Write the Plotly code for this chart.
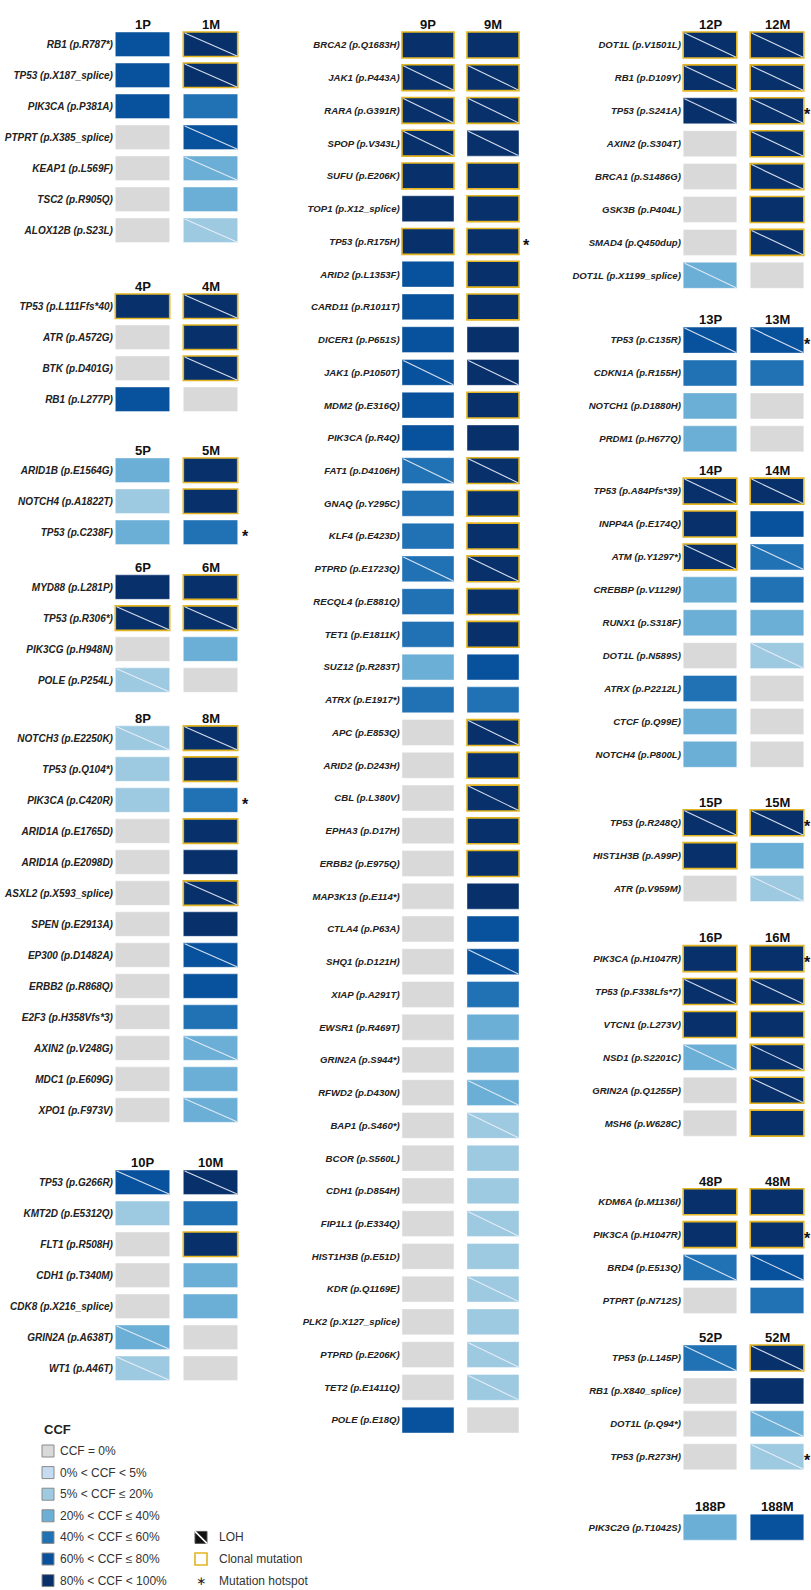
import plotly.graph_objects as go

# ---------------------------------------------------------------- data
CCF_LABELS = ["CCF = 0%", "0% < CCF < 5%", "5% < CCF ≤ 20%", "20% < CCF ≤ 40%",
              "40% < CCF ≤ 60%", "60% < CCF ≤ 80%", "80% < CCF < 100%"]
CCF_COLORS = ["#d9d9d9", "#c6dbef", "#9ecae1", "#6baed6", "#2171b5", "#08519c", "#08306b"]

# CCF values are class indices into CCF_LABELS; flags are 1 = present
MUT_1 = ["RB1 (p.R787*)", "TP53 (p.X187_splice)", "PIK3CA (p.P381A)", "PTPRT (p.X385_splice)",
         "KEAP1 (p.L569F)", "TSC2 (p.R905Q)", "ALOX12B (p.S23L)"]
CCF_P_1 = [5, 5, 5, 0, 0, 0, 0]
CCF_M_1 = [6, 6, 4, 5, 3, 3, 2]
LOH_P_1 = [0, 0, 0, 0, 0, 0, 0]
LOH_M_1 = [1, 1, 0, 1, 1, 0, 1]
CLONAL_P_1 = [0, 0, 0, 0, 0, 0, 0]
CLONAL_M_1 = [1, 1, 0, 0, 0, 0, 0]
HOTSPOT_1 = [0, 0, 0, 0, 0, 0, 0]

MUT_4 = ["TP53 (p.L111Ffs*40)", "ATR (p.A572G)", "BTK (p.D401G)", "RB1 (p.L277P)"]
CCF_P_4 = [6, 0, 0, 5]
CCF_M_4 = [6, 6, 6, 0]
LOH_P_4 = [0, 0, 0, 0]
LOH_M_4 = [1, 0, 1, 0]
CLONAL_P_4 = [1, 0, 0, 0]
CLONAL_M_4 = [1, 1, 1, 0]
HOTSPOT_4 = [0, 0, 0, 0]

MUT_5 = ["ARID1B (p.E1564G)", "NOTCH4 (p.A1822T)", "TP53 (p.C238F)"]
CCF_P_5 = [3, 2, 3]
CCF_M_5 = [6, 6, 4]
LOH_P_5 = [0, 0, 0]
LOH_M_5 = [0, 0, 0]
CLONAL_P_5 = [0, 0, 0]
CLONAL_M_5 = [1, 1, 0]
HOTSPOT_5 = [0, 0, 1]

MUT_6 = ["MYD88 (p.L281P)", "TP53 (p.R306*)", "PIK3CG (p.H948N)", "POLE (p.P254L)"]
CCF_P_6 = [6, 6, 0, 2]
CCF_M_6 = [6, 6, 3, 0]
LOH_P_6 = [0, 1, 0, 1]
LOH_M_6 = [0, 1, 0, 0]
CLONAL_P_6 = [0, 1, 0, 0]
CLONAL_M_6 = [1, 1, 0, 0]
HOTSPOT_6 = [0, 0, 0, 0]

MUT_8 = ["NOTCH3 (p.E2250K)", "TP53 (p.Q104*)", "PIK3CA (p.C420R)", "ARID1A (p.E1765D)",
         "ARID1A (p.E2098D)", "ASXL2 (p.X593_splice)", "SPEN (p.E2913A)", "EP300 (p.D1482A)",
         "ERBB2 (p.R868Q)", "E2F3 (p.H358Vfs*3)", "AXIN2 (p.V248G)", "MDC1 (p.E609G)",
         "XPO1 (p.F973V)"]
CCF_P_8 = [2, 2, 2, 0, 0, 0, 0, 0, 0, 0, 0, 0, 0]
CCF_M_8 = [6, 6, 4, 6, 6, 6, 6, 5, 5, 4, 3, 3, 3]
LOH_P_8 = [1, 0, 0, 0, 0, 0, 0, 0, 0, 0, 0, 0, 0]
LOH_M_8 = [1, 0, 0, 0, 0, 1, 0, 1, 0, 0, 1, 0, 1]
CLONAL_P_8 = [0, 0, 0, 0, 0, 0, 0, 0, 0, 0, 0, 0, 0]
CLONAL_M_8 = [1, 1, 0, 1, 0, 1, 0, 0, 0, 0, 0, 0, 0]
HOTSPOT_8 = [0, 0, 1, 0, 0, 0, 0, 0, 0, 0, 0, 0, 0]

MUT_10 = ["TP53 (p.G266R)", "KMT2D (p.E5312Q)", "FLT1 (p.R508H)", "CDH1 (p.T340M)",
          "CDK8 (p.X216_splice)", "GRIN2A (p.A638T)", "WT1 (p.A46T)"]
CCF_P_10 = [5, 2, 0, 0, 0, 3, 2]
CCF_M_10 = [6, 4, 6, 3, 3, 0, 0]
LOH_P_10 = [1, 0, 0, 0, 0, 1, 1]
LOH_M_10 = [1, 0, 0, 0, 0, 0, 0]
CLONAL_P_10 = [0, 0, 0, 0, 0, 0, 0]
CLONAL_M_10 = [0, 0, 1, 0, 0, 0, 0]
HOTSPOT_10 = [0, 0, 0, 0, 0, 0, 0]

MUT_9 = ["BRCA2 (p.Q1683H)", "JAK1 (p.P443A)", "RARA (p.G391R)", "SPOP (p.V343L)",
         "SUFU (p.E206K)", "TOP1 (p.X12_splice)", "TP53 (p.R175H)", "ARID2 (p.L1353F)",
         "CARD11 (p.R1011T)", "DICER1 (p.P651S)", "JAK1 (p.P1050T)", "MDM2 (p.E316Q)",
         "PIK3CA (p.R4Q)", "FAT1 (p.D4106H)", "GNAQ (p.Y295C)", "KLF4 (p.E423D)",
         "PTPRD (p.E1723Q)", "RECQL4 (p.E881Q)", "TET1 (p.E1811K)", "SUZ12 (p.R283T)",
         "ATRX (p.E1917*)", "APC (p.E853Q)", "ARID2 (p.D243H)", "CBL (p.L380V)",
         "EPHA3 (p.D17H)", "ERBB2 (p.E975Q)", "MAP3K13 (p.E114*)", "CTLA4 (p.P63A)",
         "SHQ1 (p.D121H)", "XIAP (p.A291T)", "EWSR1 (p.R469T)", "GRIN2A (p.S944*)",
         "RFWD2 (p.D430N)", "BAP1 (p.S460*)", "BCOR (p.S560L)", "CDH1 (p.D854H)",
         "FIP1L1 (p.E334Q)", "HIST1H3B (p.E51D)", "KDR (p.Q1169E)", "PLK2 (p.X127_splice)",
         "PTPRD (p.E206K)", "TET2 (p.E1411Q)", "POLE (p.E18Q)"]
CCF_P_9 = [6, 6, 6, 6, 6, 6, 6, 5, 5, 5, 5, 5, 5, 4, 4, 4, 4, 4, 4, 3, 4,
           0, 0, 0, 0, 0, 0, 0, 0, 0, 0, 0, 0, 0, 0, 0, 0, 0, 0, 0, 0, 0, 5]
CCF_M_9 = [6, 6, 6, 6, 6, 6, 6, 6, 6, 6, 6, 6, 6, 6, 6, 6, 6, 6, 6, 5, 4,
           6, 6, 6, 6, 6, 6, 5, 5, 4, 3, 3, 3, 2, 2, 2, 2, 2, 2, 2, 2, 2, 0]
LOH_P_9 = [0, 1, 1, 1, 0, 0, 0, 0, 0, 0, 1, 0, 0, 1, 0, 0, 1, 0, 0, 0, 0,
           0, 0, 0, 0, 0, 0, 0, 0, 0, 0, 0, 0, 0, 0, 0, 0, 0, 0, 0, 0, 0, 0]
LOH_M_9 = [0, 1, 1, 1, 0, 0, 0, 0, 0, 0, 1, 0, 0, 1, 0, 0, 1, 0, 0, 0, 0,
           1, 0, 1, 0, 0, 0, 0, 1, 0, 0, 0, 1, 1, 0, 0, 1, 0, 1, 0, 1, 1, 0]
CLONAL_P_9 = [1, 1, 1, 1, 1, 0, 1, 0, 0, 0, 0, 0, 0, 0, 0, 0, 0, 0, 0, 0, 0,
              0, 0, 0, 0, 0, 0, 0, 0, 0, 0, 0, 0, 0, 0, 0, 0, 0, 0, 0, 0, 0, 0]
CLONAL_M_9 = [1, 1, 1, 0, 1, 1, 1, 1, 1, 0, 0, 1, 0, 1, 1, 1, 1, 1, 1, 0, 0,
              1, 1, 1, 1, 1, 0, 0, 0, 0, 0, 0, 0, 0, 0, 0, 0, 0, 0, 0, 0, 0, 0]
HOTSPOT_9 = [0, 0, 0, 0, 0, 0, 1, 0, 0, 0, 0, 0, 0, 0, 0, 0, 0, 0, 0, 0, 0,
             0, 0, 0, 0, 0, 0, 0, 0, 0, 0, 0, 0, 0, 0, 0, 0, 0, 0, 0, 0, 0, 0]

MUT_12 = ["DOT1L (p.V1501L)", "RB1 (p.D109Y)", "TP53 (p.S241A)", "AXIN2 (p.S304T)",
          "BRCA1 (p.S1486G)", "GSK3B (p.P404L)", "SMAD4 (p.Q450dup)", "DOT1L (p.X1199_splice)"]
CCF_P_12 = [6, 6, 6, 0, 0, 0, 0, 3]
CCF_M_12 = [6, 6, 6, 6, 6, 6, 6, 0]
LOH_P_12 = [1, 1, 1, 0, 0, 0, 0, 1]
LOH_M_12 = [1, 1, 1, 1, 1, 0, 1, 0]
CLONAL_P_12 = [1, 1, 0, 0, 0, 0, 0, 0]
CLONAL_M_12 = [1, 1, 1, 1, 1, 1, 1, 0]
HOTSPOT_12 = [0, 0, 1, 0, 0, 0, 0, 0]

MUT_13 = ["TP53 (p.C135R)", "CDKN1A (p.R155H)", "NOTCH1 (p.D1880H)", "PRDM1 (p.H677Q)"]
CCF_P_13 = [5, 4, 3, 3]
CCF_M_13 = [5, 4, 0, 0]
LOH_P_13 = [1, 0, 0, 0]
LOH_M_13 = [1, 0, 0, 0]
CLONAL_P_13 = [0, 0, 0, 0]
CLONAL_M_13 = [0, 0, 0, 0]
HOTSPOT_13 = [1, 0, 0, 0]

MUT_14 = ["TP53 (p.A84Pfs*39)", "INPP4A (p.E174Q)", "ATM (p.Y1297*)", "CREBBP (p.V1129I)",
          "RUNX1 (p.S318F)", "DOT1L (p.N589S)", "ATRX (p.P2212L)", "CTCF (p.Q99E)",
          "NOTCH4 (p.P800L)"]
CCF_P_14 = [6, 6, 6, 3, 3, 0, 4, 3, 3]
CCF_M_14 = [6, 5, 4, 4, 3, 2, 0, 0, 0]
LOH_P_14 = [1, 0, 1, 0, 0, 0, 0, 0, 0]
LOH_M_14 = [1, 0, 1, 0, 0, 1, 0, 0, 0]
CLONAL_P_14 = [1, 1, 1, 0, 0, 0, 0, 0, 0]
CLONAL_M_14 = [1, 0, 0, 0, 0, 0, 0, 0, 0]
HOTSPOT_14 = [0, 0, 0, 0, 0, 0, 0, 0, 0]

MUT_15 = ["TP53 (p.R248Q)", "HIST1H3B (p.A99P)", "ATR (p.V959M)"]
CCF_P_15 = [6, 6, 0]
CCF_M_15 = [6, 3, 2]
LOH_P_15 = [1, 0, 0]
LOH_M_15 = [1, 0, 1]
CLONAL_P_15 = [1, 1, 0]
CLONAL_M_15 = [1, 0, 0]
HOTSPOT_15 = [1, 0, 0]

MUT_16 = ["PIK3CA (p.H1047R)", "TP53 (p.F338Lfs*7)", "VTCN1 (p.L273V)", "NSD1 (p.S2201C)",
          "GRIN2A (p.Q1255P)", "MSH6 (p.W628C)"]
CCF_P_16 = [6, 6, 6, 3, 0, 0]
CCF_M_16 = [6, 6, 6, 6, 6, 6]
LOH_P_16 = [0, 1, 0, 1, 0, 0]
LOH_M_16 = [0, 1, 0, 1, 1, 0]
CLONAL_P_16 = [1, 1, 1, 0, 0, 0]
CLONAL_M_16 = [1, 1, 1, 1, 1, 1]
HOTSPOT_16 = [1, 0, 0, 0, 0, 0]

MUT_48 = ["KDM6A (p.M1136I)", "PIK3CA (p.H1047R)", "BRD4 (p.E513Q)", "PTPRT (p.N712S)"]
CCF_P_48 = [6, 6, 4, 0]
CCF_M_48 = [6, 6, 5, 4]
LOH_P_48 = [0, 0, 1, 0]
LOH_M_48 = [0, 0, 1, 0]
CLONAL_P_48 = [1, 1, 0, 0]
CLONAL_M_48 = [1, 1, 0, 0]
HOTSPOT_48 = [0, 1, 0, 0]

MUT_52 = ["TP53 (p.L145P)", "RB1 (p.X840_splice)", "DOT1L (p.Q94*)", "TP53 (p.R273H)"]
CCF_P_52 = [4, 0, 0, 0]
CCF_M_52 = [6, 6, 3, 2]
LOH_P_52 = [1, 0, 0, 0]
LOH_M_52 = [1, 0, 1, 1]
CLONAL_P_52 = [0, 0, 0, 0]
CLONAL_M_52 = [1, 0, 0, 0]
HOTSPOT_52 = [0, 0, 0, 1]

MUT_188 = ["PIK3C2G (p.T1042S)"]
CCF_P_188 = [3]
CCF_M_188 = [5]
LOH_P_188 = [0]
LOH_M_188 = [0]
CLONAL_P_188 = [0]
CLONAL_M_188 = [0]
HOTSPOT_188 = [0]

CASES = {
    "1": (MUT_1, CCF_P_1, CCF_M_1, LOH_P_1, LOH_M_1, CLONAL_P_1, CLONAL_M_1, HOTSPOT_1),
    "4": (MUT_4, CCF_P_4, CCF_M_4, LOH_P_4, LOH_M_4, CLONAL_P_4, CLONAL_M_4, HOTSPOT_4),
    "5": (MUT_5, CCF_P_5, CCF_M_5, LOH_P_5, LOH_M_5, CLONAL_P_5, CLONAL_M_5, HOTSPOT_5),
    "6": (MUT_6, CCF_P_6, CCF_M_6, LOH_P_6, LOH_M_6, CLONAL_P_6, CLONAL_M_6, HOTSPOT_6),
    "8": (MUT_8, CCF_P_8, CCF_M_8, LOH_P_8, LOH_M_8, CLONAL_P_8, CLONAL_M_8, HOTSPOT_8),
    "10": (MUT_10, CCF_P_10, CCF_M_10, LOH_P_10, LOH_M_10, CLONAL_P_10, CLONAL_M_10, HOTSPOT_10),
    "9": (MUT_9, CCF_P_9, CCF_M_9, LOH_P_9, LOH_M_9, CLONAL_P_9, CLONAL_M_9, HOTSPOT_9),
    "12": (MUT_12, CCF_P_12, CCF_M_12, LOH_P_12, LOH_M_12, CLONAL_P_12, CLONAL_M_12, HOTSPOT_12),
    "13": (MUT_13, CCF_P_13, CCF_M_13, LOH_P_13, LOH_M_13, CLONAL_P_13, CLONAL_M_13, HOTSPOT_13),
    "14": (MUT_14, CCF_P_14, CCF_M_14, LOH_P_14, LOH_M_14, CLONAL_P_14, CLONAL_M_14, HOTSPOT_14),
    "15": (MUT_15, CCF_P_15, CCF_M_15, LOH_P_15, LOH_M_15, CLONAL_P_15, CLONAL_M_15, HOTSPOT_15),
    "16": (MUT_16, CCF_P_16, CCF_M_16, LOH_P_16, LOH_M_16, CLONAL_P_16, CLONAL_M_16, HOTSPOT_16),
    "48": (MUT_48, CCF_P_48, CCF_M_48, LOH_P_48, LOH_M_48, CLONAL_P_48, CLONAL_M_48, HOTSPOT_48),
    "52": (MUT_52, CCF_P_52, CCF_M_52, LOH_P_52, LOH_M_52, CLONAL_P_52, CLONAL_M_52, HOTSPOT_52),
    "188": (MUT_188, CCF_P_188, CCF_M_188, LOH_P_188, LOH_M_188, CLONAL_P_188, CLONAL_M_188, HOTSPOT_188),
}

COLUMNS = [["1", "4", "5", "6", "8", "10"],
           ["9"],
           ["12", "13", "14", "15", "16", "48", "52", "188"]]

# ---------------------------------------------------------------- layout / style
W, H = 811, 1590
FONT = "Liberation Sans, Arial, Helvetica, sans-serif"
GOLD = "#e3b520"
EDGE = "rgba(255,255,255,0.7)"
LOH_LINE = "rgba(235,240,248,0.9)"

# per column (pixels): primary-tile centre, P->M step, row pitch, first row centre,
# spacing (in rows) between the last row of a case and the first row of the next,
# label font size, x of the hotspot star, right end of the x range
COLUMN_LAYOUT = [
    dict(p_center=142.5, step=68, pitch=31.0, first=44.3,
         gaps=[2.45, 2.29, 1.77, 1.87, 2.33], label_size=10, star_x=1.52, x_hi=1.7),
    dict(p_center=428.0, step=65, pitch=32.74, first=45.0,
         gaps=[], label_size=9.6, star_x=1.52, x_hi=1.7),
    dict(p_center=710.0, step=67, pitch=32.9, first=45.0,
         gaps=[1.97, 1.59, 2.08, 2.13, 2.39, 1.75, 2.14], label_size=9.6, star_x=1.46, x_hi=1.5),
]
HW, HH = 0.40, 0.395          # tile half width / half height (axis units)
X_LO = -0.42
HEADER_OFFSET = 0.63

fig = go.Figure()
shapes, annotations = [], []
layout_axes = {}

for ci, (case_ids, geo) in enumerate(zip(COLUMNS, COLUMN_LAYOUT)):
    k = "" if ci == 0 else str(ci + 1)
    xref, yref = "x" + k, "y" + k
    tickvals, ticktext = [], []
    hx, hy, htext = [], [], []
    slot = 0.0
    for n, cid in enumerate(case_ids):
        mut, cp, cm, lp, lm, clp, clm, hs = CASES[cid]
        first = slot + (geo["gaps"][n - 1] if n > 0 else 0.0)
        for suffix, xc in (("P", 0), ("M", 1)):
            annotations.append(dict(
                text=f"<b>{cid}{suffix}</b>", x=xc, y=first - HEADER_OFFSET,
                xref=xref, yref=yref, showarrow=False, yanchor="middle",
                font=dict(family=FONT, size=13, color="#111")))
        for j, label in enumerate(mut):
            y = first + j
            tickvals.append(y)
            ticktext.append(label)
            for xc, lvl, loh, clonal, tag in ((0, cp[j], lp[j], clp[j], "P"),
                                              (1, cm[j], lm[j], clm[j], "M")):
                shapes.append(dict(
                    type="rect", xref=xref, yref=yref,
                    x0=xc - HW, x1=xc + HW, y0=y - HH, y1=y + HH,
                    fillcolor=CCF_COLORS[lvl],
                    line=dict(color=GOLD if clonal else EDGE, width=1.6 if clonal else 0.6)))
                if loh:
                    shapes.append(dict(
                        type="line", xref=xref, yref=yref,
                        x0=xc - HW + 0.02, y0=y - HH + 0.03, x1=xc + HW - 0.01, y1=y + HH - 0.02,
                        line=dict(color=LOH_LINE, width=1.1)))
                hx.append(xc)
                hy.append(y)
                flags = [CCF_LABELS[lvl]] + (["LOH"] if loh else []) + (["clonal"] if clonal else [])
                htext.append(f"{cid}{tag} · {label}<br>" + ", ".join(flags))
            if hs[j]:
                annotations.append(dict(
                    text="<b>*</b>", x=geo["star_x"], y=y, xref=xref, yref=yref,
                    showarrow=False, yanchor="middle", yshift=-4,
                    font=dict(family=FONT, size=16, color="#111")))
        slot = first + len(mut) - 1

    fig.add_trace(go.Scatter(
        x=hx, y=hy, xaxis=xref, yaxis=yref, mode="markers",
        marker=dict(size=22, symbol="square", opacity=0),
        hovertext=htext, hoverinfo="text", showlegend=False))

    top = -geo["first"] / geo["pitch"]
    bottom = top + H / geo["pitch"]
    left_px = geo["p_center"] + X_LO * geo["step"]
    right_px = geo["p_center"] + geo["x_hi"] * geo["step"]
    layout_axes["xaxis" + k] = dict(domain=[left_px / W, right_px / W],
                                    range=[X_LO, geo["x_hi"]], visible=False,
                                    fixedrange=True, anchor=yref)
    layout_axes["yaxis" + k] = dict(domain=[0, 1], range=[bottom, top], anchor=xref,
                                    tickvals=tickvals, ticktext=ticktext, ticks="",
                                    showgrid=False, zeroline=False, showline=False,
                                    fixedrange=True,
                                    tickfont=dict(family=FONT, size=geo["label_size"],
                                                  color="#222", weight="bold", style="italic"))

# ---------------------------------------------------------------- legend (page pixels)
def px(x, y):
    return x / W, 1 - y / H

LEG_X, LEG_TITLE_Y, LEG_Y0, LEG_DY, SW = 42, 1429, 1451, 21.6, 12
LEG_X2 = 195

tx, ty = px(LEG_X, LEG_TITLE_Y)
annotations.append(dict(text="<b>CCF</b>", x=tx, y=ty, xref="paper", yref="paper",
                        xanchor="left", yanchor="middle", showarrow=False,
                        font=dict(family=FONT, size=13, color="#222")))
for i, (lab, col) in enumerate(zip(CCF_LABELS, CCF_COLORS)):
    yc = LEG_Y0 + i * LEG_DY
    x0, y0 = px(LEG_X, yc - SW / 2)
    x1, y1 = px(LEG_X + SW, yc + SW / 2)
    shapes.append(dict(type="rect", xref="paper", yref="paper", x0=x0, x1=x1, y0=y1, y1=y0,
                       fillcolor=col, line=dict(color="#8a8a8a", width=1)))
    ax, ay = px(LEG_X + SW + 4, yc)
    annotations.append(dict(text=lab, x=ax, y=ay, xref="paper", yref="paper",
                            xanchor="left", yanchor="middle", showarrow=False,
                            font=dict(family=FONT, size=12, color="#333")))

extra = ["LOH", "Clonal mutation", "Mutation hotspot"]
for i, lab in enumerate(extra):
    yc = LEG_Y0 + (4 + i) * LEG_DY
    x0, y0 = px(LEG_X2, yc - SW / 2)
    x1, y1 = px(LEG_X2 + SW, yc + SW / 2)
    if lab == "LOH":
        shapes.append(dict(type="rect", xref="paper", yref="paper", x0=x0, x1=x1, y0=y1, y1=y0,
                           fillcolor="#111", line=dict(color="#555", width=1)))
        shapes.append(dict(type="line", xref="paper", yref="paper", x0=x0, y0=y0, x1=x1, y1=y1,
                           line=dict(color="white", width=1.5)))
    elif lab == "Clonal mutation":
        shapes.append(dict(type="rect", xref="paper", yref="paper", x0=x0, x1=x1, y0=y1, y1=y0,
                           fillcolor="white", line=dict(color=GOLD, width=1.6)))
    else:
        sx, sy = px(LEG_X2 + SW / 2, yc)
        annotations.append(dict(text="∗", x=sx, y=sy, xref="paper", yref="paper",
                                xanchor="center", yanchor="middle", showarrow=False,
                                font=dict(family="DejaVu Sans, sans-serif", size=12, color="#222")))
    ax, ay = px(LEG_X2 + SW + 10, yc)
    annotations.append(dict(text=lab, x=ax, y=ay, xref="paper", yref="paper",
                            xanchor="left", yanchor="middle", showarrow=False,
                            font=dict(family=FONT, size=12, color="#333")))

fig.update_layout(
    width=W, height=H, margin=dict(l=0, r=0, t=0, b=0),
    paper_bgcolor="white", plot_bgcolor="white",
    showlegend=False, shapes=shapes, annotations=annotations,
    hoverlabel=dict(font=dict(family=FONT, size=11)),
    **layout_axes,
)

fig.write_html("out.html")
